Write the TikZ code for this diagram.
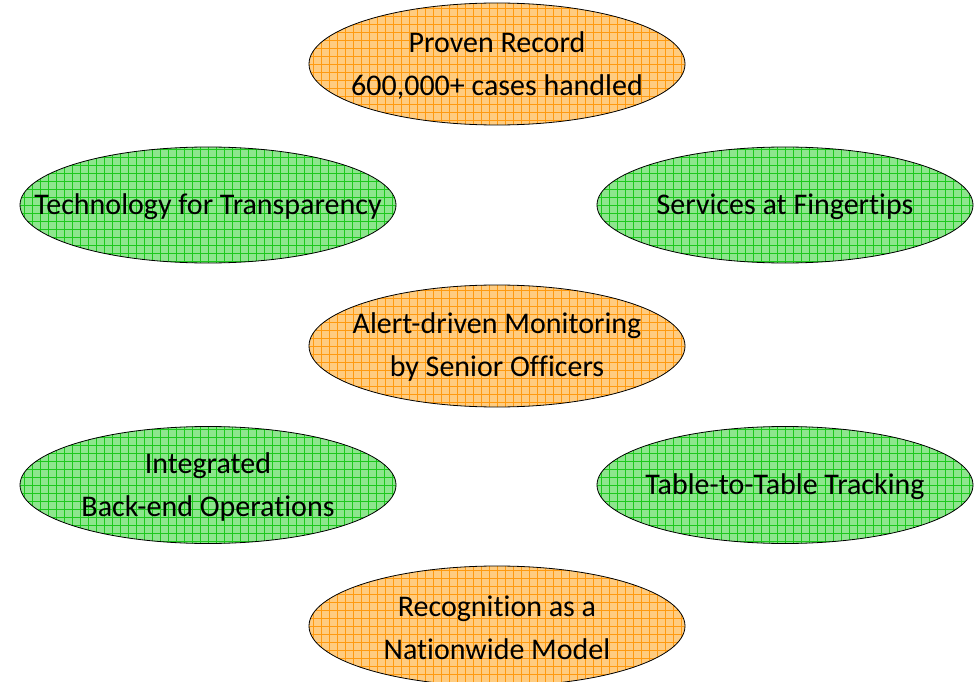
\documentclass[tikz,border=0pt]{standalone}
\usepackage{fontspec}
\setmainfont{Carlito}[Ligatures={NoCommon,NoContextual,NoRequired}]
\usetikzlibrary{shapes.geometric}
\definecolor{orfill}{HTML}{FFCC80}
\definecolor{orgrid}{HTML}{FF9A10}
\definecolor{grfill}{HTML}{8DE68D}
\definecolor{grgrid}{HTML}{1DC81D}
\tikzset{
  oval/.style={ellipse, draw=black, line width=0.8pt, inner sep=0pt,
    minimum width=376pt, minimum height=#1},
  oval/.default=120pt,
  ovaltext/.style={font=\fontsize{30}{43}\selectfont, align=center, inner sep=0pt,
    yshift=-1.5pt},
  orangeoval/.style={oval=#1, fill=orfill,
    path picture={\draw[orgrid, line width=0.45pt]
      ([xshift=-1pt,yshift=-1pt]path picture bounding box.south west) grid[step=8pt]
      ([xshift=1pt,yshift=1pt]path picture bounding box.north east);}},
  greenoval/.style={oval=#1, fill=grfill,
    path picture={\draw[grgrid, line width=0.45pt]
      ([xshift=-1pt,yshift=-1pt]path picture bounding box.south west) grid[step=8pt]
      ([xshift=1pt,yshift=1pt]path picture bounding box.north east);}}
}
\begin{document}
\begin{tikzpicture}[x=1pt,y=-1pt]
  \useasboundingbox (0,0) rectangle (978,682);
  % ovals
  \node[orangeoval=122pt] (record) at (497,64) {};
  \node[greenoval=116pt] (tech) at (208,205) {};
  \node[greenoval=116pt] (services) at (785,205) {};
  \node[orangeoval=122pt] (alert) at (497,346) {};
  \node[greenoval=117pt] (backend) at (208,485) {};
  \node[greenoval=117pt] (tracking) at (785,485) {};
  \node[orangeoval=120pt] (model) at (497,626) {};
  % captions
  \node[ovaltext] (recordtext) at (record.center) {Proven Record\\600,000+ cases handled};
  \node[ovaltext] (techtext) at (tech.center) {Technology for Transparency};
  \node[ovaltext] (servicestext) at (services.center) {Services at Fingertips};
  \node[ovaltext] (alerttext) at (alert.center) {Alert-driven Monitoring\\by Senior Officers};
  \node[ovaltext] (backendtext) at (backend.center) {Integrated\\Back-end Operations};
  \node[ovaltext] (trackingtext) at (tracking.center) {Table-to-Table Tracking};
  \node[ovaltext] (modeltext) at (model.center) {Recognition as a\\Nationwide Model};
\end{tikzpicture}
\end{document}
